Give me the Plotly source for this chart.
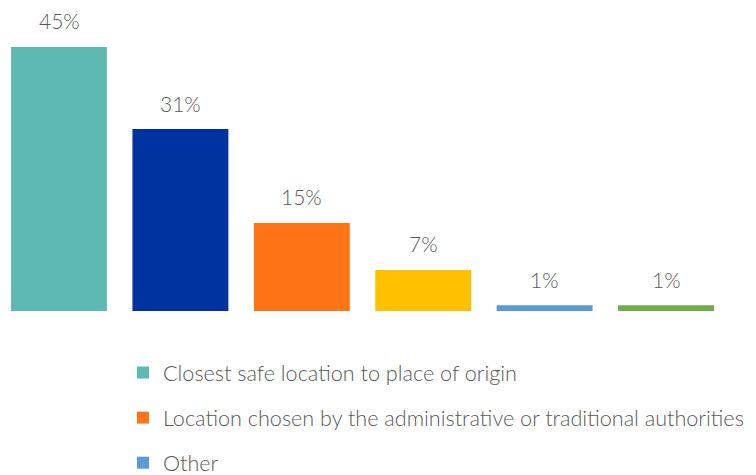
import plotly.graph_objects as go

categories = ["c1", "c2", "c3", "c4", "c5", "c6"]
series_names = [
    "Closest safe location to place of origin",
    "",
    "Location chosen by the administrative or traditional authorities",
    "",
    "Other",
    "",
]
values = [45, 31, 15, 7, 1, 1]
labels = ["45%", "31%", "15%", "7%", "1%", "1%"]
colors = ["#5EB9B3", "#0033A0", "#FF7417", "#FFC000", "#5B9BD5", "#70AD47"]

FONT = "Lato"
TEXT_COLOR = "#595959"

fig = go.Figure()
for i, (cat, name, val, col) in enumerate(zip(categories, series_names, values, colors)):
    fig.add_trace(go.Bar(
        x=[cat], y=[val], name=name if name else f"series {i+1}",
        marker=dict(color=col, line=dict(width=0)),
        width=0.79,
        showlegend=bool(name),
        legendgroup=f"g{i}",
        hoverinfo="skip",
    ))
    fig.add_annotation(
        x=cat, y=val, text=labels[i], showarrow=False,
        yanchor="middle", yshift=26,
        font=dict(family=FONT, size=21, color=TEXT_COLOR, weight=300),
    )

fig.update_layout(
    width=756, height=475,
    margin=dict(l=0, r=0, t=0, b=164, autoexpand=False),
    paper_bgcolor="white", plot_bgcolor="white",
    barmode="overlay",
    showlegend=True,
    legend=dict(
        xref="container", yref="container",
        x=123 / 756, xanchor="left",
        y=(475 - 352) / 475, yanchor="top",
        orientation="v",
        tracegroupgap=14,
        font=dict(family=FONT, size=21.6, color=TEXT_COLOR, weight=300),
        bgcolor="rgba(0,0,0,0)",
    ),
    xaxis=dict(
        type="category", categoryorder="array", categoryarray=categories,
        range=[-0.486, 5.741], visible=False,
    ),
    yaxis=dict(range=[0, 53.0], visible=False),
)

fig.write_html(
    "out.html",
    config={"displayModeBar": False},
    post_script="document.body.style.margin='0';",
)
